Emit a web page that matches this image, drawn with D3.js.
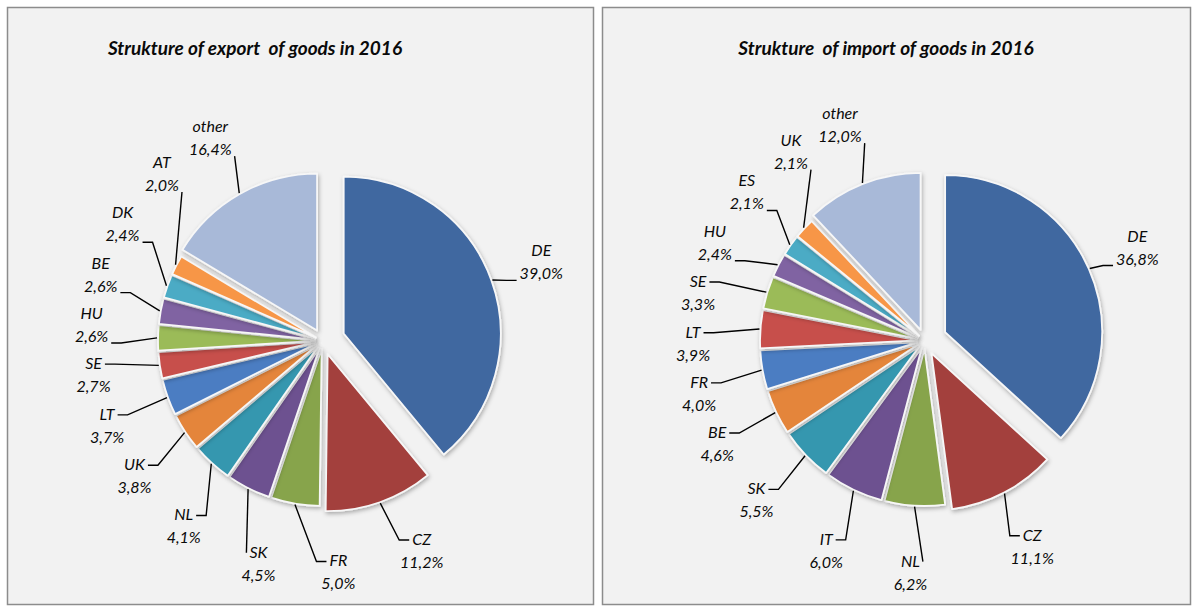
<!DOCTYPE html>
<html>
<head>
<meta charset="utf-8">
<script src="https://cdn.jsdelivr.net/npm/d3@7"></script>
<style>
  body { margin: 0; background: #ffffff; }
  svg text { font-family: Lato, "Open Sans", sans-serif; font-style: italic; fill: #0a0a0a; }
</style>
</head>
<body>
<svg id="chart" width="1200" height="612"></svg>
<script>
// values (share of total, %)
const exportCountries = ["DE", "CZ", "FR", "SK", "NL", "UK", "LT", "SE", "HU", "BE", "DK", "AT", "other"];
const exportShares = [39.0, 11.2, 5.0, 4.5, 4.1, 3.8, 3.7, 2.7, 2.6, 2.6, 2.4, 2.0, 16.4];
const importCountries = ["DE", "CZ", "NL", "IT", "SK", "BE", "FR", "LT", "SE", "HU", "ES", "UK", "other"];
const importShares = [36.8, 11.1, 6.2, 6.0, 5.5, 4.6, 4.0, 3.9, 3.3, 2.4, 2.1, 2.1, 12.0];
const chartTitles = ["Strukture of export  of goods in 2016", "Strukture  of import of goods in 2016"];

// Excel 2007 style point colours
const palette = ["#3f67a0", "#a33f3c", "#87a44b", "#6d5190", "#3597af", "#e4853a",
                 "#4b7dc2", "#c74f4c", "#9bbb59", "#8064a2", "#4babc5", "#f79646", "#a8b9d8"];

const svg = d3.select("#chart");
const R = 157;
const fmt = d3.format(".1f");
const pctText = (v) => fmt(v).replace(".", ",") + "%";

// soft shadow under the slices
const defs = svg.append("defs");
const shadow = defs.append("filter").attr("id", "shadow")
  .attr("x", "-20%").attr("y", "-20%").attr("width", "140%").attr("height", "140%");
shadow.append("feDropShadow").attr("dx", 1).attr("dy", 2)
  .attr("stdDeviation", 2.2).attr("flood-color", "#000").attr("flood-opacity", 0.3);

const panels = [
  { x: 7.5, w: 586, cx: 323, cy: 341, titleX: 255, names: exportCountries, values: exportShares, title: chartTitles[0] },
  { x: 602.5, w: 588, cx: 925, cy: 341, titleX: 886, names: importCountries, values: importShares, title: chartTitles[1] }
];

// how far each slice is pulled out of the pie
function explodeOf(i, n) {
  if (i === 0) return 22;
  if (i === 1) return 14;
  if (i === n - 1) return 12;
  return 8;
}

panels.forEach((p) => {
  svg.append("rect")
    .attr("x", p.x).attr("y", 7.5)
    .attr("width", p.w).attr("height", 597)
    .attr("fill", "#f2f2f2")
    .attr("stroke", "#8c8c8c")
    .attr("stroke-width", 1.5);

  svg.append("text")
    .attr("x", p.titleX).attr("y", 55)
    .attr("text-anchor", "middle")
    .style("font-size", "19px")
    .style("font-weight", "bold")
    .style("white-space", "pre")
    .text(p.title);

  const data = p.names.map((name, i) => ({ name, value: p.values[i], i }));
  const arcs = d3.pie().sort(null).value((d) => d.value)(data);
  const arc = d3.arc().innerRadius(0).outerRadius(R);
  const n = data.length;

  const mid = (a) => (a.startAngle + a.endAngle) / 2;

  // slices
  const g = svg.append("g").attr("transform", `translate(${p.cx},${p.cy})`);
  g.selectAll("path")
    .data(arcs)
    .join("path")
    .attr("transform", (a) => {
      const e = explodeOf(a.index, n);
      return `translate(${e * Math.sin(mid(a))},${-e * Math.cos(mid(a))})`;
    })
    .attr("d", arc)
    .attr("fill", (a) => palette[a.index])
    .attr("stroke", "#f7f7f7")
    .attr("stroke-width", 1.8)
    .attr("stroke-linejoin", "round")
    .attr("filter", "url(#shadow)");

  // labels: two centred lines, placed outside and pushed apart when they collide
  const rL = 232;
  const labels = svg.append("g");
  const items = arcs.map((a) => {
    const t = labels.append("text")
      .attr("text-anchor", "middle")
      .style("font-size", "16px");
    const t1 = t.append("tspan").text(a.data.name);
    const t2 = t.append("tspan").text(pctText(a.data.value));
    const w1 = t1.node().getComputedTextLength();
    const w2 = t2.node().getComputedTextLength();
    return { a, t, t1, t2, w1, w2, w: Math.max(w1, w2) + 4, h: 48, ang: mid(a) };
  });

  const posOf = (it) => [p.cx + rL * Math.sin(it.ang), p.cy - rL * Math.cos(it.ang)];
  for (let iter = 0; iter < 3000; iter++) {
    let moved = false;
    for (let k = 0; k < items.length; k++) {
      const a = items[k];
      const b = items[(k + 1) % items.length];
      const [ax, ay] = posOf(a);
      const [bx, by] = posOf(b);
      // labels under the pie sit side by side and want more room
      const below = Math.max(0, -Math.cos((a.ang + b.ang) / 2));
      const padX = 6 + 36 * Math.pow(below, 1.5);
      const ox = (a.w + b.w) / 2 + padX - Math.abs(ax - bx);
      const oy = (a.h + b.h) / 2 + 2 - Math.abs(ay - by);
      if (ox > 0 && oy > 0) {
        a.ang -= 0.002;
        b.ang += 0.002;
        moved = true;
      }
    }
    if (!moved) break;
  }

  items.forEach((it) => {
    const [lx, ly] = posOf(it);
    it.t1.attr("x", lx).attr("y", ly - 6);
    it.t2.attr("x", lx).attr("y", ly + 17);

    // leader line from the middle of the slice rim to the label
    const m = mid(it.a);
    const e = explodeOf(it.a.index, n) + R + 1;
    const ex = p.cx + e * Math.sin(m);
    const ey = p.cy - e * Math.cos(m);
    const side = ex < lx ? -1 : 1;
    let ax, ay;
    if (ey < ly) {
      ax = lx + side * (it.w1 / 2 + 3);
      ay = ly - 11;
    } else {
      ax = lx + side * (it.w2 / 2 + 3);
      ay = ly + 18;
    }
    const pts = [[ax, ay]];
    if (Math.abs(ex - ax) > 14) pts.push([ax + side * 10, ay]);
    pts.push([ex, ey]);

    labels.append("path")
      .attr("d", d3.line()(pts))
      .attr("fill", "none")
      .attr("stroke", "#000")
      .attr("stroke-width", 1.4);
  });
});
</script>
</body>
</html>
